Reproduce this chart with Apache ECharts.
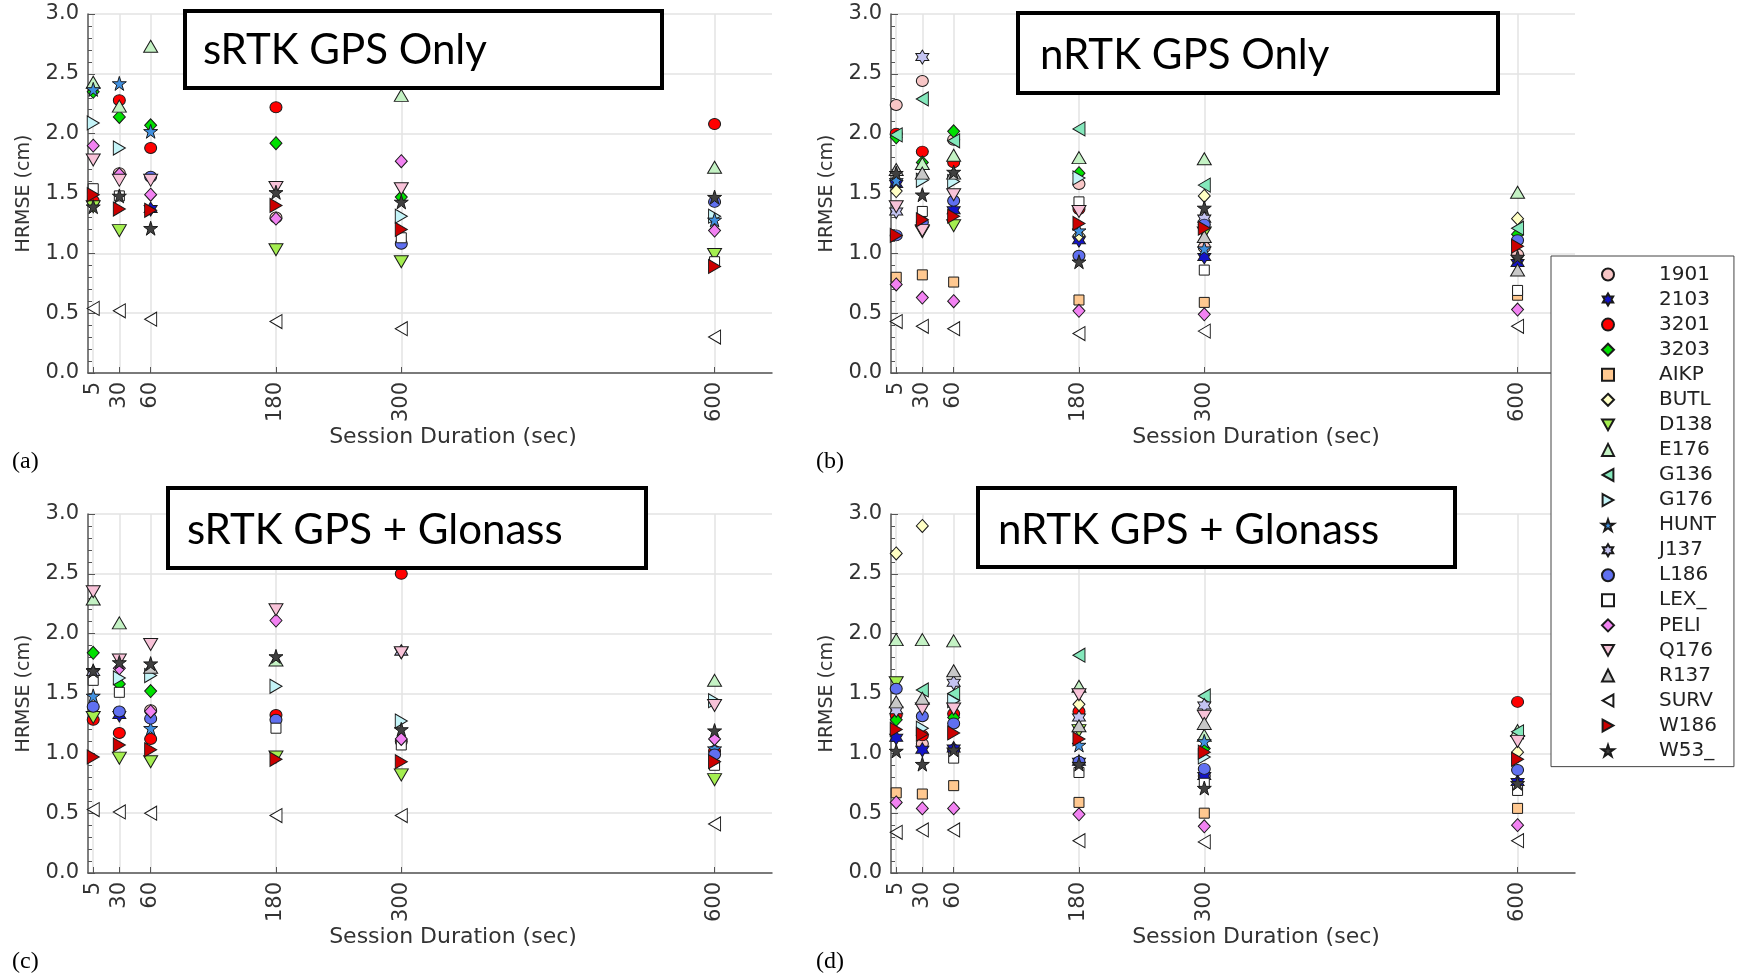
<!DOCTYPE html>
<html>
<head>
<meta charset="utf-8">
<script src="https://cdn.jsdelivr.net/npm/echarts@6/dist/echarts.min.js"></script>
<style>
html, body { margin: 0; padding: 0; background: #fff; }
#chart { width: 1740px; height: 974px; }
</style>
</head>
<body>
<div id="chart"></div>
<script>
// session durations (sec) on the x axis
const durations = [5, 30, 60, 180, 300, 600];

const stations = ['1901', '2103', '3201', '3203', 'AIKP', 'BUTL', 'D138', 'E176', 'G136', 'G176',
    'HUNT', 'J137', 'L186', 'LEX_', 'PELI', 'Q176', 'R137', 'SURV', 'W186', 'W53_'];

const panelTitles = ['sRTK GPS Only', 'nRTK GPS Only', 'sRTK GPS + Glonass', 'nRTK GPS + Glonass'];
const panelTags = ['(a)', '(b)', '(c)', '(d)'];

// HRMSE (cm), one row per station, one column per duration (null = hidden / not read)
const srtkGps = [
    [null, 1.67, null, 1.30, null, null],
    [null, null, 1.37, null, null, null],
    [1.44, 2.28, 1.88, 2.22, null, 2.08],
    [2.35, 2.14, 2.07, 1.92, 1.47, null],
    [null, null, null, null, null, null],
    [null, null, null, null, null, null],
    [1.39, 1.19, null, 1.03, 0.93, 0.99],
    [2.43, 2.23, 2.73, null, 2.32, 1.72],
    [null, null, null, null, null, null],
    [2.09, 1.88, null, null, 1.31, 1.31],
    [2.37, 2.42, 2.02, null, null, 1.28],
    [null, null, null, null, null, null],
    [null, null, 1.64, null, 1.08, 1.43],
    [1.54, 1.48, null, null, 1.13, 0.93],
    [1.90, 1.66, 1.49, 1.29, 1.77, 1.19],
    [1.78, 1.61, 1.61, 1.55, 1.54, null],
    [null, null, null, null, null, null],
    [0.54, 0.52, 0.45, 0.43, 0.37, 0.30],
    [1.49, 1.37, 1.36, 1.40, 1.20, 0.89],
    [1.39, 1.48, 1.21, 1.51, 1.43, 1.47]
];

const nrtkGps = [
    [2.24, 2.44, 1.95, 1.58, 1.05, 0.99],
    [1.58, null, 1.36, 1.11, 0.97, 0.92],
    [2.00, 1.85, 1.76, 1.37, null, null],
    [1.97, 1.76, 2.02, 1.67, null, 1.16],
    [0.80, 0.82, 0.76, 0.61, 0.59, 0.65],
    [1.52, null, null, 1.15, 1.48, 1.29],
    [null, 1.18, 1.23, null, 1.17, null],
    [null, 1.75, 1.82, 1.80, 1.79, 1.51],
    [1.99, 2.29, 1.94, 2.04, 1.57, 1.21],
    [null, 1.61, 1.60, 1.63, null, null],
    [1.61, null, null, 1.19, 1.04, null],
    [1.35, 2.64, null, null, 1.29, null],
    [1.15, 1.26, 1.44, 0.98, 1.24, 1.11],
    [null, 1.35, null, 1.43, 0.86, 0.69],
    [0.74, 0.63, 0.60, 0.52, 0.49, 0.53],
    [1.39, 1.19, 1.49, 1.35, null, null],
    [1.70, 1.67, 1.67, null, 1.14, 0.86],
    [0.43, 0.39, 0.37, 0.33, 0.35, 0.39],
    [1.15, 1.28, 1.31, 1.25, 1.21, 1.06],
    [1.67, 1.49, 1.68, 0.93, 1.38, 0.97]
];

const srtkGlo = [
    [null, null, 1.36, null, 1.10, null],
    [null, 1.32, null, null, null, null],
    [1.28, 1.17, 1.12, 1.32, 2.50, 1.02],
    [1.84, 1.58, 1.52, null, null, null],
    [null, null, null, null, null, null],
    [null, null, null, null, null, null],
    [1.30, 0.96, 0.93, 0.97, 0.82, 0.78],
    [2.29, 2.09, null, 1.78, null, 1.61],
    [null, null, null, null, null, null],
    [null, 1.63, 1.65, 1.56, 1.27, 1.44],
    [1.48, null, 1.21, null, null, 1.04],
    [1.68, null, null, null, 1.85, null],
    [1.39, 1.35, 1.29, 1.28, null, 0.99],
    [1.61, 1.51, null, 1.21, 1.07, 0.90],
    [null, 1.71, 1.35, 2.11, 1.12, 1.12],
    [2.35, 1.78, 1.91, 2.20, 1.84, 1.40],
    [null, null, 1.72, null, null, null],
    [0.53, 0.51, 0.50, 0.48, 0.48, 0.41],
    [0.97, 1.07, 1.03, 0.95, 0.93, 0.93],
    [1.69, 1.76, 1.75, 1.81, 1.20, 1.19]
];

const nrtkGlo = [
    [null, 1.08, 1.03, null, 0.81, null],
    [1.13, 1.03, 1.04, 0.93, 0.81, 0.76],
    [1.32, 1.15, 1.33, 1.35, null, 1.43],
    [1.28, null, 1.30, null, 1.04, null],
    [0.67, 0.66, 0.73, 0.59, 0.50, 0.54],
    [2.67, 2.90, null, 1.41, null, 1.01],
    [1.59, null, null, 1.19, null, null],
    [1.95, 1.95, 1.94, 1.56, 1.15, 1.19],
    [null, 1.53, 1.50, 1.82, 1.48, 1.18],
    [null, 1.21, 1.44, null, 0.97, null],
    [null, null, null, 1.07, 1.10, null],
    [1.36, null, 1.59, 1.30, 1.40, null],
    [1.54, 1.31, 1.25, 0.93, 0.87, 0.86],
    [null, null, 0.96, 0.84, 0.75, 0.69],
    [0.59, 0.54, 0.54, 0.49, 0.39, 0.40],
    [null, 1.37, 1.37, 1.49, 1.31, 1.10],
    [1.43, 1.46, 1.69, 1.23, 1.25, null],
    [0.34, 0.36, 0.36, 0.27, 0.26, 0.27],
    [1.20, 1.16, 1.17, 1.12, 1.01, 0.95],
    [1.02, 0.91, 1.03, 0.91, 0.71, 0.75]
];

const panels = [srtkGps, nrtkGps, srtkGlo, nrtkGlo];

// marker shapes (matlab-ish)
const SYM = {
    circle: 'circle',
    square: 'rect',
    diamond: 'diamond',
    up: 'triangle',
    down: 'path://M0,0L10,0L5,9Z',
    left: 'path://M0,5L9,0L9,10Z',
    right: 'path://M0,0L9,5L0,10Z',
    pent: 'path://M10,0L12.25,6.91L19.51,6.91L13.63,11.18L15.88,18.09L10,13.82L4.12,18.09L6.37,11.18L0.49,6.91L7.75,6.91Z',
    hex: 'path://M10,0L12.89,5L18.66,5L15.77,10L18.66,15L12.89,15L10,20L7.11,15L1.34,15L4.23,10L1.34,5L7.11,5Z'
};
const SIZE = {
    circle: [12, 11], square: [10, 10], diamond: [12, 13], up: [14, 12], down: [14, 12],
    left: [12, 14], right: [12, 14], pent: [14, 14], hex: [13, 14]
};
const stationShapes = ['circle', 'hex', 'circle', 'diamond', 'square', 'diamond', 'down', 'up', 'left', 'right',
    'pent', 'hex', 'circle', 'square', 'diamond', 'down', 'up', 'left', 'right', 'pent'];
const stationColors = ['#f8c6c6', '#1414c8', '#ff0000', '#00e000', '#ffc890', '#ffffc4', '#a4ee50', '#c4f2c4',
    '#84e8bc', '#c4f4f8', '#4090e0', '#c4c4f2', '#6070f0', '#ffffff', '#f282f2', '#f8c2d8', '#c8c8c8',
    '#ffffff', '#cc0000', '#404040'];

const gridPos = [
    { left: 88, top: 14 }, { left: 891, top: 14 },
    { left: 88, top: 514 }, { left: 891, top: 514 }
];
const titleBoxes = [
    [185, 11, 477, 77, 203, 50], [1018, 13, 480, 80, 1040, 55],
    [168, 488, 478, 80, 187, 530], [978, 488, 477, 79, 998, 530]
];
const tagPos = [[12, 462], [816, 462], [12, 962], [816, 962]];

var chart = echarts.init(document.getElementById('chart'), null, { renderer: 'canvas' });

const axisColor = '#555';
const grids = [], xAxes = [], yAxes = [], series = [];

gridPos.forEach((g, p) => {
    grids.push({ left: g.left, top: g.top, width: 684, height: 359, containLabel: false });
    xAxes.push({
        type: 'value', gridIndex: p, min: 0, max: 655,
        name: 'Session Duration (sec)', nameLocation: 'middle', nameGap: 44,
        nameTextStyle: { fontSize: 22, fontFamily: 'DejaVu Sans', color: '#333', padding: [0, 0, 0, 46] },
        axisLine: { onZero: false, lineStyle: { color: axisColor, width: 1.5 } },
        axisTick: { inside: true, length: 6, customValues: durations, lineStyle: { color: axisColor } },
        axisLabel: { customValues: durations, rotate: 90, margin: 9, fontSize: 21, fontFamily: 'DejaVu Sans', color: '#333' },
        splitLine: { show: true, lineStyle: { color: '#e3e3e3', width: 1.5 } }
    });
    yAxes.push({
        type: 'value', gridIndex: p, min: 0, max: 3, interval: 0.5,
        name: 'HRMSE (cm)', nameLocation: 'middle', nameGap: 54,
        nameTextStyle: { fontSize: 19, fontFamily: 'DejaVu Sans', color: '#333' },
        axisLine: { show: true, lineStyle: { color: axisColor, width: 1.5 } },
        axisTick: { show: true, inside: true, length: 7, lineStyle: { color: axisColor } },
        minorTick: { show: true, splitNumber: 5, length: 4, lineStyle: { color: axisColor } },
        axisLabel: { formatter: v => v.toFixed(1), margin: 9, fontSize: 21, fontFamily: 'DejaVu Sans', color: '#333' },
        splitLine: { lineStyle: { color: '#e3e3e3', width: 1.5 } },
        minorSplitLine: { show: false }
    });
});

panels.forEach((panel, p) => {
    stations.forEach((name, s) => {
        const shape = stationShapes[s];
        series.push({
            type: 'scatter', name: name, xAxisIndex: p, yAxisIndex: p,
            symbol: SYM[shape], symbolSize: SIZE[shape],
            itemStyle: { color: stationColors[s], borderColor: '#1a1a1a', borderWidth: 1, opacity: 1 },
            emphasis: { disabled: true },
            data: durations.map((d, i) => [d, panel[s][i]]).filter(pt => pt[1] != null)
        });
    });
});

const graphics = [];
titleBoxes.forEach((b, p) => {
    graphics.push({
        type: 'rect', shape: { x: b[0], y: b[1], width: b[2], height: b[3] },
        style: { fill: '#fff', stroke: '#000', lineWidth: 4 }, z: 10
    });
    graphics.push({
        type: 'text', x: b[4], y: b[5], z: 11,
        style: { text: panelTitles[p], font: '42px Lato', fill: '#000', textVerticalAlign: 'middle' }
    });
});
tagPos.forEach((t, p) => {
    graphics.push({
        type: 'text', x: t[0], y: t[1], z: 11,
        style: { text: panelTags[p], font: '24px "Liberation Serif"', fill: '#000', textVerticalAlign: 'middle' }
    });
});

var option = {
    animation: false,
    backgroundColor: '#fff',
    grid: grids,
    xAxis: xAxes,
    yAxis: yAxes,
    legend: {
        data: stations, orient: 'vertical', left: 1551, top: 256,
        padding: [8.5, 17, 6, 50], itemGap: 5.06, itemWidth: 12, itemHeight: 12,
        borderColor: '#444', borderWidth: 1, backgroundColor: '#fff',
        selectedMode: false,
        textStyle: { fontSize: 20, fontFamily: 'DejaVu Sans', color: '#222', padding: [0, 0, 0, 40] }
    },
    graphic: graphics,
    series: series
};

option && chart.setOption(option);
</script>
</body>
</html>
